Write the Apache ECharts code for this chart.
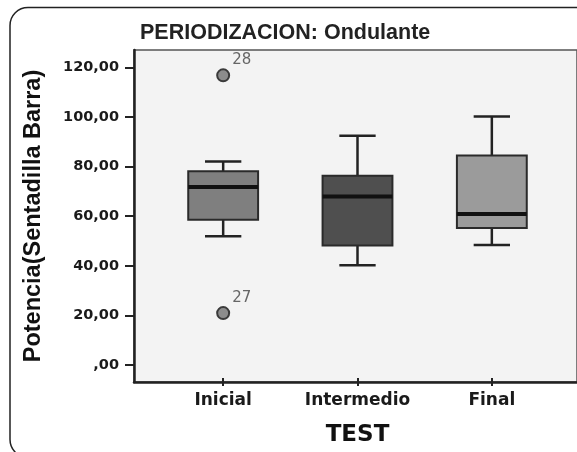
<!DOCTYPE html>
<html>
<head>
<meta charset="utf-8">
<script src="https://cdn.jsdelivr.net/npm/echarts@6/dist/echarts.min.js"></script>
<style>
  html, body { margin: 0; padding: 0; background: #fff; }
  #chart { width: 577px; height: 452px; }
</style>
</head>
<body>
<div id="chart"></div>
<script>
// categorias del eje X
const categories = ['Inicial', 'Intermedio', 'Final'];
// estadisticos de cada caja
const lowWhisker = [51.0, 39.1, 47.4];
const q1 = [57.7, 47.2, 54.4];
const median = [71.1, 67.2, 60.1];
const q3 = [77.5, 75.7, 84.0];
const highWhisker = [81.5, 92.0, 99.9];
const boxColors = ['#7f7f7f', '#4f4f4f', '#9b9b9b'];
// valores atipicos
const outlierCategory = [0, 0];
const outlierValues = [116.7, 19.6];
const outlierCase = ['28', '27'];
// marcas del eje Y
const yTicks = [0, 20, 40, 60, 80, 100, 120];
const yTickLabels = [',00', '20,00', '40,00', '60,00', '80,00', '100,00', '120,00'];

const chart = echarts.init(document.getElementById('chart'));

const boxData = categories.map((c, i) => [i, lowWhisker[i], q1[i], median[i], q3[i], highWhisker[i]]);
const outlierData = outlierValues.map((v, i) => [outlierCategory[i], v, outlierCase[i]]);

//dibujar cada caja
function renderBox(params, api) {
  const i = api.value(0);
  const bw = api.size([1, 0])[0] * 0.52;
  const cw = bw * 0.26;
  const pLow = api.coord([i, api.value(1)]);
  const pQ1 = api.coord([i, api.value(2)]);
  const pMed = api.coord([i, api.value(3)]);
  const pQ3 = api.coord([i, api.value(4)]);
  const pHigh = api.coord([i, api.value(5)]);
  const x = pLow[0];
  const lineStyle = { stroke: '#222', lineWidth: 2.5 };
  return {
    type: 'group',
    children: [
      { type: 'line', shape: { x1: x, y1: pLow[1], x2: x, y2: pQ1[1] }, style: lineStyle },
      { type: 'line', shape: { x1: x, y1: pQ3[1], x2: x, y2: pHigh[1] }, style: lineStyle },
      { type: 'line', shape: { x1: x - cw, y1: pLow[1], x2: x + cw, y2: pLow[1] }, style: lineStyle },
      { type: 'line', shape: { x1: x - cw, y1: pHigh[1], x2: x + cw, y2: pHigh[1] }, style: lineStyle },
      {
        type: 'rect',
        shape: { x: x - bw / 2, y: pQ3[1], width: bw, height: pQ1[1] - pQ3[1] },
        style: { fill: boxColors[params.dataIndex], stroke: '#2a2a2a', lineWidth: 2 }
      },
      { type: 'line', shape: { x1: x - bw / 2, y1: pMed[1], x2: x + bw / 2, y2: pMed[1] }, style: { stroke: '#111', lineWidth: 4 } }
    ]
  };
}

const option = {
  backgroundColor: '#ffffff',
  animation: false,
  title: {
    text: 'PERIODIZACION: Ondulante',
    left: 140,
    top: 22,
    padding: 0,
    textStyle: { fontFamily: 'Liberation Sans', fontWeight: 'bold', fontSize: 21.5, color: '#222' }
  },
  graphic: [{
    type: 'rect',
    shape: { x: 10, y: 7.5, width: 620, height: 450, r: 18 },
    style: { fill: 'none', stroke: '#222', lineWidth: 1.5 },
    z: 100
  }],
  grid: [
    {
      left: 134, top: 50, right: -20, bottom: 70,
      show: true, backgroundColor: '#f3f3f3', borderColor: '#555', borderWidth: 1.5
    },
    { left: 156, top: 50, right: 18, bottom: 70 }
  ],
  xAxis: [
    {
      type: 'value', gridIndex: 0, min: 0, max: 1,
      axisLine: { show: true, onZero: false, lineStyle: { color: '#222', width: 2.5 } },
      axisTick: { show: false },
      axisLabel: { show: false },
      splitLine: { show: false }
    },
    {
      type: 'category', gridIndex: 1, data: categories,
      name: 'TEST',
      nameLocation: 'middle',
      nameGap: 46,
      nameTextStyle: { fontFamily: 'DejaVu Sans', fontWeight: 'bold', fontSize: 23, color: '#111' },
      axisLine: { show: false, onZero: false },
      axisTick: { show: true, alignWithLabel: true, interval: 0, length: 8, lineStyle: { color: '#222', width: 2 } },
      axisLabel: { interval: 0, margin: 14, fontFamily: 'DejaVu Sans', fontWeight: 'bold', fontSize: 17, color: '#1a1a1a' },
      splitLine: { show: false }
    }
  ],
  yAxis: [
    {
      type: 'value', gridIndex: 0, min: -6.9, max: 127.05,
      name: 'Potencia(Sentadilla Barra)',
      nameLocation: 'middle',
      nameRotate: 90,
      nameGap: 88,
      nameTextStyle: { fontFamily: 'Liberation Sans', fontWeight: 'bold', fontSize: 23.5, color: '#111' },
      axisLine: { show: true, onZero: false, lineStyle: { color: '#222', width: 2.5 } },
      axisTick: { show: true, length: 9, customValues: yTicks, lineStyle: { color: '#222', width: 2 } },
      axisLabel: {
        margin: 15,
        customValues: yTicks,
        fontFamily: 'DejaVu Sans', fontWeight: 'bold', fontSize: 14.5, color: '#1a1a1a',
        formatter: v => yTickLabels[yTicks.indexOf(v)]
      },
      splitLine: { show: false }
    },
    {
      type: 'value', gridIndex: 1, min: -6.9, max: 127.05, show: false
    }
  ],
  series: [
    {
      type: 'custom',
      xAxisIndex: 1,
      yAxisIndex: 1,
      renderItem: renderBox,
      encode: { x: 0, y: [1, 2, 3, 4, 5] },
      data: boxData
    },
    {
      type: 'scatter',
      xAxisIndex: 1,
      yAxisIndex: 1,
      symbol: 'circle',
      symbolSize: 12,
      itemStyle: { color: '#8c8c8c', borderColor: '#3a3a3a', borderWidth: 2, opacity: 1 },
      label: {
        show: true,
        position: 'right',
        offset: [-3, -15],
        formatter: p => p.data[2],
        fontFamily: 'DejaVu Sans', fontSize: 15, color: '#666'
      },
      data: outlierData
    }
  ]
};

chart.setOption(option);
</script>
</body>
</html>
